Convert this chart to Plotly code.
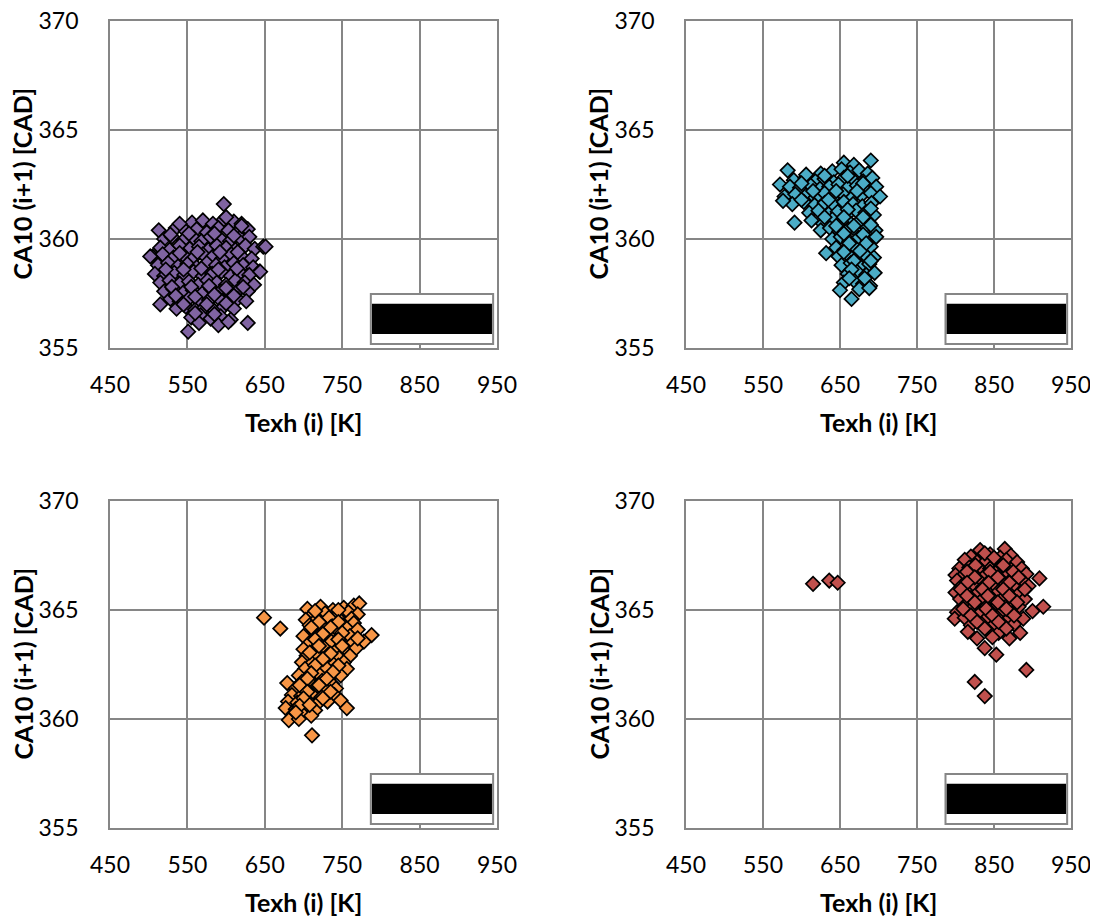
import plotly.graph_objects as go

# ---------------- data ----------------
purple_x = [597,
            556, 570, 583, 597, 610, 620,
            513, 535, 548, 562, 575, 590, 603, 615, 628,
            520, 530, 545, 558, 568, 580, 593, 605, 618, 630,
            515, 527, 540, 553, 565, 577, 588, 600, 612, 625, 637, 648,
            505, 518, 532, 545, 557, 570, 583, 595, 607, 620, 633,
            512, 525, 538, 550, 562, 575, 587, 598, 610, 622, 635, 643,
            508, 520, 533, 546, 558, 570, 582, 594, 606, 618, 630,
            515, 527, 540, 552, 564, 576, 588, 600, 612, 624, 636,
            520, 532, 545, 557, 569, 581, 593, 605, 617, 628,
            515, 528, 540, 553, 566, 578, 590, 602, 615, 626,
            536, 548, 560, 572, 585, 597, 610,
            555, 567, 580, 593, 606,
            565, 590, 603, 628,
            551, 651, 644, 502,
            528, 552, 585, 610, 540, 563, 592, 615, 522, 545, 568, 590, 614,
            530, 555, 578, 600, 622, 535, 560, 585, 610, 545, 575, 600,
            560, 585, 620, 540, 600]
purple_y = [361.6,
            360.75, 360.85, 360.7, 360.9, 360.8, 360.7,
            360.4, 360.5, 360.35, 360.45, 360.3, 360.5, 360.4, 360.3, 360.45,
            360.0, 360.1, 359.95, 360.05, 359.9, 360.1, 360.0, 359.9, 360.05, 360.1,
            359.6, 359.5, 359.7, 359.55, 359.65, 359.5, 359.7, 359.6, 359.5, 359.7, 359.55, 359.65,
            359.2, 359.3, 359.15, 359.25, 359.1, 359.3, 359.2, 359.1, 359.3, 359.2, 359.1,
            358.8, 358.9, 358.75, 358.85, 358.7, 358.9, 358.8, 358.7, 358.9, 358.8, 358.7, 358.5,
            358.4, 358.3, 358.45, 358.35, 358.5, 358.3, 358.4, 358.5, 358.3, 358.45, 358.35,
            358.0, 358.1, 357.95, 358.05, 357.9, 358.1, 358.0, 357.9, 358.1, 358.0, 357.9,
            357.6, 357.7, 357.55, 357.65, 357.5, 357.7, 357.6, 357.5, 357.7, 357.6,
            357.0, 357.25, 357.15, 357.3, 357.1, 357.2, 357.3, 357.1, 357.25, 357.15,
            356.8, 356.9, 356.75, 356.85, 356.7, 356.9, 356.8,
            356.4, 356.5, 356.35, 356.45, 356.3,
            356.15, 356.05, 356.2, 356.15,
            355.75, 359.65, 358.5, 359.2,
            360.2, 360.25, 360.25, 360.15, 359.35, 359.4, 359.4, 359.4, 358.6, 358.6, 358.65, 358.6, 358.65,
            357.8, 357.8, 357.85, 357.75, 357.8, 357.4, 357.35, 357.45, 357.4, 357.0, 357.0, 357.05,
            356.6, 356.55, 360.6, 360.7, 361.0]

teal_x = [655, 668, 690,
          582, 625, 640, 652, 663, 675, 686,
          590, 605, 618, 630, 642, 655, 667, 680, 692,
          572, 585, 598, 612, 624, 636, 648, 660, 672, 684, 697,
          578, 592, 606, 618, 630, 642, 654, 666, 678, 690, 702,
          588, 603, 617, 630, 643, 655, 667, 679, 691,
          610, 622, 635, 647, 659, 671, 683, 694,
          591, 613, 628, 640, 652, 664, 676, 688,
          625, 637, 649, 661, 673, 685, 696,
          640, 651, 662, 674, 686, 697,
          645, 656, 667, 679, 690,
          632, 648, 660, 671, 683, 694,
          652, 664, 676, 688,
          660, 672, 684, 695,
          655, 668, 680, 689,
          650, 675, 688,
          665, 576, 606,
          600, 630, 660, 680, 615, 645, 672, 600, 635, 660, 690, 630, 655, 680,
          645, 668, 690, 655, 680, 662, 684, 655, 676, 668, 690, 665, 682, 662]
teal_y = [363.5, 363.4, 363.6,
          363.15, 363.0, 363.1, 363.2, 363.05, 363.15, 363.0,
          362.7, 362.8, 362.65, 362.75, 362.6, 362.8, 362.7, 362.65, 362.8,
          362.5, 362.4, 362.35, 362.45, 362.3, 362.4, 362.5, 362.35, 362.45, 362.3, 362.4,
          361.95, 362.05, 362.0, 361.9, 362.1, 361.95, 362.05, 361.9, 362.0, 362.1, 361.95,
          361.6, 361.7, 361.55, 361.65, 361.5, 361.7, 361.6, 361.5, 361.65,
          361.2, 361.3, 361.15, 361.25, 361.1, 361.3, 361.2, 361.1,
          360.75, 360.85, 360.7, 360.9, 360.8, 360.7, 360.85, 360.75,
          360.4, 360.5, 360.35, 360.45, 360.3, 360.5, 360.4,
          360.0, 360.1, 359.9, 360.05, 359.95, 360.1,
          359.6, 359.5, 359.7, 359.55, 359.65,
          359.35, 359.2, 359.3, 359.1, 359.25, 359.15,
          358.8, 358.9, 358.75, 358.85,
          358.4, 358.5, 358.35, 358.45,
          358.0, 358.1, 357.95, 357.85,
          357.65, 357.7, 357.75,
          357.25, 361.75, 362.95,
          362.55, 362.9, 362.9, 362.55, 362.2, 362.2, 362.2, 361.8, 361.8, 361.35, 361.4, 361.0, 361.0, 361.0,
          360.6, 360.6, 360.65, 360.25, 360.2, 359.8, 359.8, 359.4, 359.45, 359.0, 359.0, 358.6, 358.2, 358.2]

orange_x = [705, 722, 738, 752, 765, 772,
            712, 728, 744, 758, 770,
            649, 703, 718, 733, 748, 762,
            708, 722, 737, 751, 765,
            670, 714, 728, 742, 756, 770,
            700, 718, 732, 746, 760, 788,
            708, 722, 736, 750, 764, 778,
            700, 713, 727, 741, 755, 768,
            704, 718, 732, 746, 760,
            698, 711, 725, 739, 752,
            702, 715, 729, 743, 756,
            694, 707, 720, 734, 748,
            679, 698, 711, 724, 737,
            690, 703, 716, 729, 742,
            685, 697, 710, 723, 740,
            680, 692, 705, 718, 731, 748,
            677, 690, 702, 715, 756,
            686, 698, 710,
            681, 694,
            711,
            715, 745, 720, 745, 710, 735, 725, 750, 715, 745, 770, 720, 750, 708, 735,
            725, 715, 745, 710, 738, 705, 730, 695, 720, 705, 735, 700, 725, 695, 708, 690]
orange_y = [365.05, 365.15, 365.0, 365.1, 365.2, 365.3,
            364.8, 364.85, 364.75, 364.9, 364.8,
            364.65, 364.55, 364.6, 364.65, 364.5, 364.6,
            364.3, 364.35, 364.25, 364.3, 364.4,
            364.15, 364.05, 364.1, 364.0, 364.15, 364.1,
            363.8, 363.75, 363.85, 363.7, 363.8, 363.85,
            363.5, 363.45, 363.55, 363.4, 363.5, 363.55,
            363.2, 363.15, 363.25, 363.1, 363.2, 363.25,
            362.9, 362.85, 362.95, 362.8, 362.9,
            362.6, 362.55, 362.65, 362.5, 362.6,
            362.3, 362.25, 362.35, 362.2, 362.3,
            362.0, 361.95, 362.05, 361.9, 362.0,
            361.65, 361.7, 361.65, 361.75, 361.6,
            361.4, 361.35, 361.45, 361.3, 361.4,
            361.1, 361.05, 361.15, 361.0, 361.1,
            360.8, 360.75, 360.85, 360.7, 360.8, 360.85,
            360.5, 360.45, 360.55, 360.4, 360.5,
            360.2, 360.25, 360.15,
            359.95, 360.0,
            359.25,
            364.95, 365.0, 364.45, 364.45, 364.2, 364.2, 363.9, 363.95, 363.65, 363.65, 363.7, 363.35, 363.35, 363.05, 363.0,
            362.75, 362.45, 362.45, 362.1, 362.15, 361.85, 361.85, 361.55, 361.55, 361.25, 361.25, 360.95, 360.95, 360.6, 360.65, 360.3]

red_x = [615, 636, 647,
         832, 864,
         820, 845, 858, 872,
         812, 828, 840, 852, 866, 880,
         805, 818, 832, 845, 858, 872, 886,
         800, 812, 826, 839, 852, 865, 878, 892,
         802, 818, 832, 846, 860, 874, 888, 909,
         808, 822, 836, 850, 864, 878, 895,
         800, 814, 828, 842, 856, 870, 884,
         806, 820, 834, 848, 862, 876, 890,
         812, 826, 840, 854, 868, 882, 914,
         802, 818, 832, 846, 860, 874, 900,
         799, 812, 826, 840, 854, 868, 888,
         820, 834, 848, 862, 876,
         816, 842, 856, 884,
         828, 848, 870,
         838, 853, 892, 825, 838,
         838, 850, 826, 862, 815, 845, 875, 825, 855, 882, 815, 843, 870, 807, 835, 862, 890,
         815, 842, 870, 825, 855, 880, 810, 840, 866, 820, 848, 876, 828, 856, 838, 866]
red_y = [366.2, 366.35, 366.25,
         367.75, 367.8,
         367.45, 367.55, 367.4, 367.5,
         367.3, 367.2, 367.25, 367.15, 367.3, 367.2,
         366.9, 366.95, 366.85, 366.9, 366.95, 366.85, 366.9,
         366.6, 366.65, 366.55, 366.6, 366.7, 366.55, 366.6, 366.65,
         366.35, 366.4, 366.3, 366.4, 366.35, 366.45, 366.3, 366.45,
         366.1, 366.15, 366.05, 366.1, 366.15, 366.05, 366.1,
         365.8, 365.85, 365.75, 365.8, 365.85, 365.75, 365.8,
         365.5, 365.55, 365.45, 365.5, 365.55, 365.45, 365.5,
         365.2, 365.25, 365.15, 365.2, 365.25, 365.15, 365.15,
         364.9, 364.95, 364.85, 364.9, 364.95, 364.85, 364.95,
         364.6, 364.65, 364.55, 364.6, 364.65, 364.55, 364.6,
         364.3, 364.35, 364.25, 364.3, 364.35,
         364.0, 364.05, 363.95, 363.95,
         363.7, 363.75, 363.7,
         363.25, 362.95, 362.25, 361.7, 361.05,
         367.6, 367.4, 367.05, 367.05, 366.75, 366.75, 366.75, 366.5, 366.5, 366.5, 366.25, 366.25, 366.25, 365.95, 365.95, 365.95, 365.95,
         365.65, 365.65, 365.65, 365.35, 365.35, 365.35, 365.05, 365.05, 365.05, 364.75, 364.75, 364.75, 364.45, 364.45, 364.15, 364.15]

x_ticks = [450, 550, 650, 750, 850, 950]
y_ticks = [355, 360, 365, 370]
x_title = "Texh (i) [K]"
y_title = "CA10 (i+1) [CAD]"

series = [
    (purple_x, purple_y, "#8064A2"),
    (teal_x, teal_y, "#4BACC6"),
    (orange_x, orange_y, "#F79646"),
    (red_x, red_y, "#C0504D"),
]

# ---------------- layout ----------------
# The page body adds an 8 px margin; positions below are reference pixels
# shifted by that offset so the figure lands where the reference is.
OFF = 8
W, H = 1098 - OFF, 917 - OFF


def px_x(p):
    return (p - OFF) / W


def px_y(p):
    return 1 - (p - OFF) / H


x_doms = [[px_x(110), px_x(497)], [px_x(686), px_x(1071)]]
y_doms = [[px_y(348), px_y(21)], [px_y(828), px_y(501)]]
panel_pos = [(0, 0), (1, 0), (0, 1), (1, 1)]

GRID = "#868686"
FONT = "Lato, 'Open Sans', sans-serif"
TICK_SIZE = 23
TITLE_SIZE = 25

fig = go.Figure()
layout = dict(
    width=W, height=H, margin=dict(l=0, r=0, t=0, b=0, autoexpand=False),
    paper_bgcolor="white", plot_bgcolor="white", showlegend=False,
    font=dict(family=FONT, size=TICK_SIZE, color="black"),
)
shapes = []
annotations = []
for i, ((xs, ys, col), (cx, ry)) in enumerate(zip(series, panel_pos)):
    n = "" if i == 0 else str(i + 1)
    xa, ya = "x" + n, "y" + n
    fig.add_trace(go.Scatter(
        x=xs, y=ys, mode="markers", xaxis=xa, yaxis=ya,
        marker=dict(symbol="diamond", size=11, color=col,
                    line=dict(color="black", width=1.7)),
    ))
    common = dict(showgrid=True, gridcolor=GRID, gridwidth=1.5,
                  showline=True, linecolor=GRID, linewidth=1.7, mirror=True,
                  zeroline=False, ticks="", automargin=False,
                  ticklabeloverflow="allow",
                  tickfont=dict(family=FONT, size=TICK_SIZE, color="black"))
    layout["xaxis" + n] = dict(
        common, domain=x_doms[cx], range=[450, 950], tickvals=x_ticks,
        anchor=ya, ticklabelstandoff=16)
    layout["yaxis" + n] = dict(
        common, domain=y_doms[ry], range=[355, 370], tickvals=y_ticks,
        anchor=xa, ticklabelstandoff=25)
    # axis titles
    xd, yd = x_doms[cx], y_doms[ry]
    annotations.append(dict(
        text="<b>" + x_title + "</b>", xref="paper", yref="paper",
        x=(xd[0] + xd[1]) / 2, y=yd[0] - 74 / H, xanchor="center", yanchor="middle",
        showarrow=False, font=dict(family=FONT, size=TITLE_SIZE, color="black")))
    annotations.append(dict(
        text="<b>" + y_title + "</b>", xref="paper", yref="paper",
        x=xd[0] - 88 / W, y=(yd[0] + yd[1]) / 2, xanchor="center", yanchor="middle",
        textangle=-90, showarrow=False,
        font=dict(family=FONT, size=TITLE_SIZE, color="black")))
    # legend-like box with a black bar (as in the reference)
    shapes.append(dict(type="rect", xref=xa + " domain", yref=ya + " domain",
                       x0=0.674, x1=0.99, y0=0.012, y1=0.165,
                       fillcolor="white", line=dict(color=GRID, width=2)))
    shapes.append(dict(type="rect", xref=xa + " domain", yref=ya + " domain",
                       x0=0.677, x1=0.987, y0=0.043, y1=0.135,
                       fillcolor="black", line=dict(width=0)))

layout["shapes"] = shapes
layout["annotations"] = annotations
fig.update_layout(**layout)
fig.write_html("out.html")
